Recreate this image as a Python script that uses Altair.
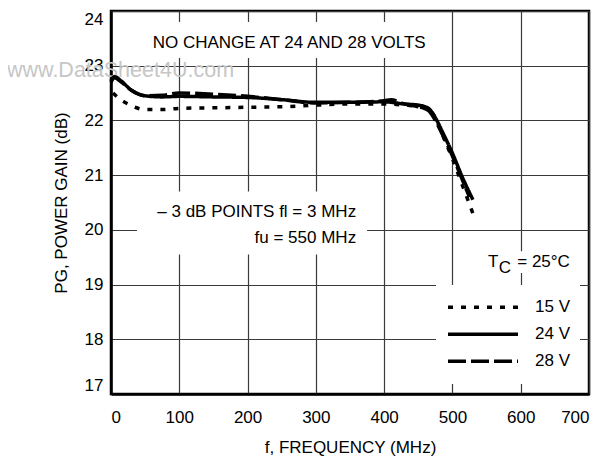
import altair as alt
import pandas as pd

# ---- data ----
series = ["15 V", "24 V", "28 V"]

freq_15v = [3, 10, 25, 50, 75, 100, 150, 200, 250, 300, 350, 400, 430, 450, 465, 475, 485, 500, 515, 530]
gain_15v = [22.50, 22.42, 22.30, 22.20, 22.20, 22.22, 22.23, 22.24, 22.25, 22.28, 22.30, 22.30, 22.28, 22.25, 22.20, 22.05, 21.75, 21.30, 20.80, 20.30]

freq_24v = [0, 5, 15, 30, 50, 75, 100, 150, 200, 250, 300, 350, 400, 430, 450, 465, 475, 485, 500, 515, 530]
gain_24v = [22.72, 22.80, 22.72, 22.55, 22.45, 22.43, 22.44, 22.43, 22.42, 22.38, 22.33, 22.33, 22.34, 22.30, 22.28, 22.22, 22.05, 21.80, 21.40, 20.95, 20.55]

freq_28v = [0, 5, 15, 30, 50, 75, 100, 150, 200, 250, 300, 350, 400, 410, 430, 450, 465, 475, 485, 500, 515, 525]
gain_28v = [22.70, 22.78, 22.70, 22.55, 22.45, 22.46, 22.50, 22.48, 22.44, 22.38, 22.32, 22.33, 22.36, 22.38, 22.30, 22.25, 22.18, 22.00, 21.75, 21.35, 20.90, 20.60]

x_ticks = [0, 100, 200, 300, 400, 500, 600, 700]
y_ticks = [17, 18, 19, 20, 21, 22, 23, 24]

# annotation texts
left_texts = ["NO CHANGE AT 24 AND 28 VOLTS", "T", "C"]
right_texts = ["\u2013 3 dB POINTS fl = 3 MHz", "fu = 550 MHz", "= 25\u00b0C"]

# ---- build tables ----
rows = []
for s, fs, gs in zip(series, [freq_15v, freq_24v, freq_28v], [gain_15v, gain_24v, gain_28v]):
    for f, g in zip(fs, gs):
        rows.append({"series": s, "freq": f, "gain": g})
df = pd.DataFrame(rows)

# annotation layout (placement in axis units)
left_df = pd.DataFrame({"label": left_texts, "freq": [61, 552, 568], "gain": [23.32, 19.32, 19.21]})
right_df = pd.DataFrame({"label": right_texts, "freq": [359, 359, 672], "gain": [20.23, 19.76, 19.32]})
mask_df = pd.DataFrame({"freq": [10, 38, 549], "freq2": [455, 375, 675],
                        "gain": [23.14, 19.55, 19.21], "gain2": [23.80, 20.70, 19.61]})

FONT = "Liberation Sans, Arial, sans-serif"
FS = 17

x_scale = alt.Scale(domain=[0, 700], nice=False)
y_scale = alt.Scale(domain=[17, 24], nice=False)
x_axis = alt.Axis(values=x_ticks, title="f, FREQUENCY (MHz)")
y_axis = alt.Axis(values=y_ticks, title="PG, POWER GAIN (dB)", labelFlush=True)

def X():
    return alt.X("freq:Q", scale=x_scale, axis=x_axis)

def Y():
    return alt.Y("gain:Q", scale=y_scale, axis=y_axis)

masks = alt.Chart(mask_df).mark_rect(fill="white").encode(
    x=X(), x2="freq2:Q", y=Y(), y2="gain2:Q")

lines = alt.Chart(df).mark_line(strokeWidth=3.5, color="black", interpolate="monotone",
                                strokeCap="butt").encode(
    x=X(), y=Y(),
    strokeDash=alt.StrokeDash(
        "series:N",
        scale=alt.Scale(domain=series, range=[[5, 8], [1, 0], [18, 5]]),
        legend=alt.Legend(title=None, orient="none", legendX=325, legendY=274,
                          fillColor="white", padding=10, symbolType="stroke",
                          symbolSize=4900, symbolStrokeWidth=3.5,
                          symbolStrokeColor="black", clipHeight=24.5,
                          labelFont=FONT, labelFontSize=FS, labelColor="black",
                          labelOffset=15)),
)

txt_left = alt.Chart(left_df).mark_text(align="left", baseline="alphabetic", font=FONT,
                                        fontSize=FS, color="black").encode(
    x=X(), y=Y(), text="label:N")
txt_right = alt.Chart(right_df).mark_text(align="right", baseline="alphabetic", font=FONT,
                                          fontSize=FS, color="black").encode(
    x=X(), y=Y(), text="label:N")

wm = alt.Chart(pd.DataFrame({"label": ["www.DataSheet4U.com"]})).mark_text(
    align="left", baseline="alphabetic", font=FONT,
    fontSize=21.5, color="#c6c6c6").encode(
    x=alt.value(-104), y=alt.value(66), text="label:N")

chart = alt.layer(wm, masks, lines, txt_left, txt_right).properties(
    width=478, height=383,
    autosize=alt.AutoSizeParams(type="none"),
    padding={"left": 103, "top": 3, "right": 6, "bottom": 64},
).configure_view(stroke="black", strokeWidth=2.5).configure_axis(
    grid=True, gridColor="#3a3a3a", gridWidth=1.2, gridOpacity=1,
    ticks=False, domainColor="black", domainWidth=2.5,
    labelFont=FONT, labelFontSize=FS, labelColor="black",
    titleFont=FONT, titleFontSize=FS, titleFontWeight="normal", titleColor="black",
).configure_axisX(labelPadding=15, titlePadding=14).configure_axisY(
    labelPadding=8, titlePadding=14)

chart.save("out.html", embed_options={"renderer": "svg", "actions": False})
